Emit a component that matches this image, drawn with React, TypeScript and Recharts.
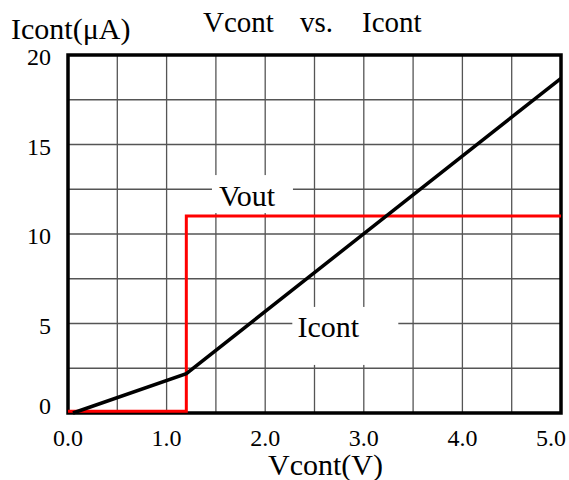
import React from 'react';
import { LineChart, Line, XAxis, YAxis, CartesianGrid, ReferenceArea, ReferenceDot } from 'recharts';

// Vcont (V) vs Icont (uA)
const icontV = [0.05, 1.2, 5.0];
const icontI = [0, 2.2, 18.7];

// Vout step (drawn on the same current scale)
const voutV = [0, 1.2, 1.2, 5.0];
const voutI = [0.1, 0.1, 11, 11];

const xTicks = [0, 0.5, 1, 1.5, 2, 2.5, 3, 3.5, 4, 4.5, 5];
const yTicks = [0, 2.5, 5, 7.5, 10, 12.5, 15, 17.5, 20];

const icontData = icontV.map((v, i) => ({ v, i: icontI[i] }));
const voutData = voutV.map((v, i) => ({ v, i: voutI[i] }));

const FONT = '"Liberation Serif", "Times New Roman", serif';

const XTick = (props: any) => {
  const { x, y, payload } = props;
  const val = payload.value;
  if (val % 1 !== 0) return null;
  const last = val === 5;
  return (
    <text
      x={last ? x + 5 : x}
      y={y + 25}
      textAnchor={last ? 'end' : 'middle'}
      style={{ fontFamily: FONT, fontSize: 24 }}
      fill="#000"
    >
      {val.toFixed(1)}
    </text>
  );
};

const YTick = (props: any) => {
  const { x, y, payload } = props;
  const val = payload.value;
  if (val % 5 !== 0) return null;
  return (
    <text
      x={x - 9}
      y={val === 0 ? y + 1 : y + 10}
      textAnchor="end"
      style={{ fontFamily: FONT, fontSize: 24 }}
      fill="#000"
    >
      {val}
    </text>
  );
};

// white box behind an in-plot label; (cx, cy) is the text baseline centre
const boxLabel = (text: string, left: number, top: number, w: number, h: number) => (props: any) => {
  const { cx, cy } = props;
  return (
    <g>
      <rect x={cx + left} y={cy + top} width={w} height={h} fill="#fff" />
      <text x={cx} y={cy} textAnchor="middle" style={{ fontFamily: FONT, fontSize: 30 }} fill="#000">
        {text}
      </text>
    </g>
  );
};

const txt: React.CSSProperties = {
  position: 'absolute',
  fontFamily: FONT,
  fontSize: 29,
  lineHeight: 1,
  whiteSpace: 'nowrap',
  color: '#000',
};

export default function App() {
  return (
    <div style={{ position: 'absolute', left: 0, top: 0, width: 569, height: 480, background: '#fff' }}>
      <LineChart
        width={569}
        height={480}
        margin={{ top: 55, right: 8, left: 8, bottom: 7 }}
      >
        <CartesianGrid stroke="#555" strokeWidth={1.3} />
        <XAxis
          type="number"
          dataKey="v"
          domain={[0, 5]}
          ticks={xTicks}
          tick={<XTick />}
          tickLine={false}
          axisLine={false}
          height={60}
          interval={0}
        />
        <YAxis
          type="number"
          dataKey="i"
          domain={[0, 20]}
          ticks={yTicks}
          tick={<YTick />}
          tickLine={false}
          axisLine={false}
          width={60}
          interval={0}
        />
        <ReferenceDot x={1.815} y={11.56} r={0} shape={boxLabel('Vout', -35, -31, 81, 38)} />
        <ReferenceDot x={2.64} y={4.25} r={0} shape={boxLabel('Icont', -36, -30, 106, 58)} />
        <Line
          data={voutData}
          dataKey="i"
          type="linear"
          stroke="#ff0000"
          strokeWidth={3}
          dot={false}
          isAnimationActive={false}
        />
        <Line
          data={icontData}
          dataKey="i"
          type="linear"
          stroke="#000"
          strokeWidth={3.5}
          dot={false}
          isAnimationActive={false}
        />
        <ReferenceArea x1={0} x2={5} y1={0} y2={20} fill="none" stroke="#000" strokeWidth={3.5} />
      </LineChart>
      <div style={{ ...txt, left: 11, top: 14, fontSize: 30 }}>Icont(μA)</div>
      <div style={{ ...txt, left: 203, top: 8 }}>Vcont</div>
      <div style={{ ...txt, left: 300, top: 8 }}>vs.</div>
      <div style={{ ...txt, left: 362, top: 8 }}>Icont</div>
      <div style={{ ...txt, left: 268, top: 452, fontSize: 30, lineHeight: '26px' }}>Vcont(V)</div>
    </div>
  );
}
